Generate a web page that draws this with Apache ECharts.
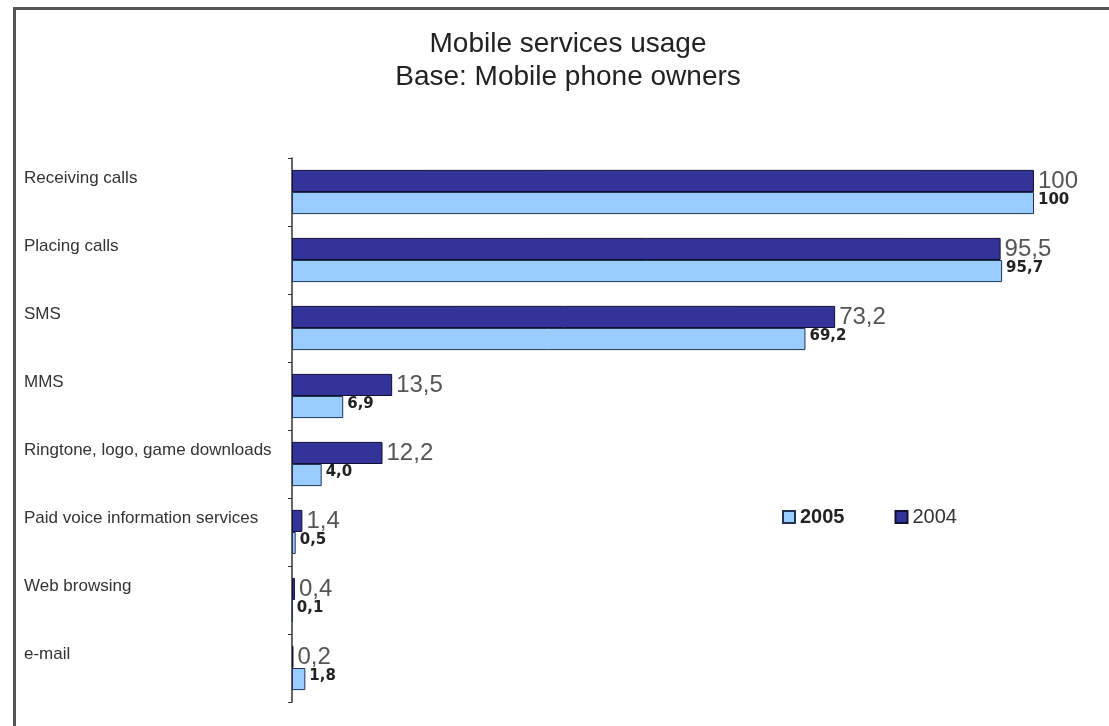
<!DOCTYPE html>
<html>
<head>
<meta charset="utf-8">
<script src="https://cdn.jsdelivr.net/npm/echarts@6/dist/echarts.min.js"></script>
<style>
  html, body { margin: 0; padding: 0; background: #fff; }
  .frame {
    position: absolute;
    left: 13px;
    top: 7px;
    width: 1200px;
    height: 800px;
    border-top: 3px solid #555;
    border-left: 3px solid #555;
  }
  #chart { position: absolute; left: 0; top: 0; width: 1109px; height: 726px; }
</style>
</head>
<body>
<div class="frame"></div>
<div id="chart"></div>
<script>
const categories = [
  'Receiving calls',
  'Placing calls',
  'SMS',
  'MMS',
  'Ringtone, logo, game downloads',
  'Paid voice information services',
  'Web browsing',
  'e-mail',
];
const values2004 = [100, 95.5, 73.2, 13.5, 12.2, 1.4, 0.4, 0.2];
const values2005 = [100, 95.7, 69.2, 6.9, 4.0, 0.5, 0.1, 1.8];

const FONT = "'Liberation Sans Narrow', 'Liberation Sans', Arial, sans-serif";

// 100 stays whole, everything else gets one decimal with a comma
const fmt = (v) => (v === 100 ? '100' : v.toFixed(1).replace('.', ','));

const chart = echarts.init(document.getElementById('chart'));

chart.setOption({
  animation: false,
  title: {
    text: 'Mobile services usage\nBase: Mobile phone owners',
    left: 563,
    top: 23,
    textAlign: 'center',
    textStyle: {
      fontFamily: FONT,
      fontSize: 28,
      fontWeight: 'normal',
      color: '#222',
      lineHeight: 33,
    },
  },
  legend: {
    left: 777,
    top: 502,
    icon: 'rect',
    itemWidth: 12,
    itemHeight: 12,
    itemGap: 50,
    data: [
      { name: '2005', textStyle: { fontWeight: 'bold', color: '#222' } },
      { name: '2004', textStyle: { color: '#333' } },
    ],
    textStyle: { fontFamily: FONT, fontSize: 20 },
  },
  grid: {
    left: 292,
    right: 75,
    top: 158,
    height: 544,
    containLabel: false,
  },
  xAxis: {
    type: 'value',
    min: 0,
    max: 100,
    show: false,
  },
  yAxis: {
    type: 'category',
    inverse: true,
    data: categories,
    axisLine: { show: true, lineStyle: { color: '#333', width: 1.5 } },
    axisTick: { show: true, length: 4, lineStyle: { color: '#333' } },
    axisLabel: {
      align: 'left',
      margin: 268,
      fontFamily: FONT,
      fontSize: 17,
      lineHeight: 28,
      color: '#333',
      // empty second line lifts the name level with the 2004 bar
      formatter: (v) => v + '\n',
    },
  },
  series: [
    {
      name: '2004',
      type: 'bar',
      data: values2004,
      barGap: '0%',
      barCategoryGap: '35%',
      itemStyle: { color: '#333399', borderColor: '#111133', borderWidth: 1 },
      label: {
        show: true,
        position: 'right',
        distance: 4,
        formatter: (p) => fmt(p.value),
        fontFamily: FONT,
        fontSize: 24,
        color: '#555',
      },
    },
    {
      name: '2005',
      type: 'bar',
      data: values2005,
      barGap: '0%',
      barCategoryGap: '35%',
      itemStyle: { color: '#99ccff', borderColor: '#223355', borderWidth: 1 },
      label: {
        show: true,
        position: 'right',
        distance: 4,
        offset: [0, -3],
        formatter: (p) => fmt(p.value),
        fontFamily: "'DejaVu Sans', sans-serif",
        fontSize: 15,
        fontWeight: 'bold',
        color: '#222',
      },
    },
  ],
});
</script>
</body>
</html>
